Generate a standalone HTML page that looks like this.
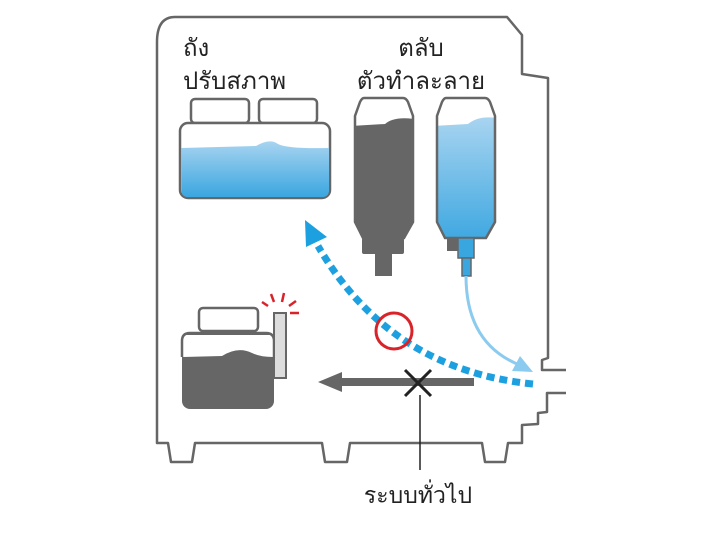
<!DOCTYPE html>
<html><head><meta charset="utf-8"><style>
body{margin:0;background:#fff}
text{font-family:"Liberation Sans","Noto Sans CJK SC",sans-serif;fill:#222}
</style></head><body>
<svg width="720" height="531" viewBox="0 0 720 531" xmlns="http://www.w3.org/2000/svg">
<defs>
<linearGradient id="bl" x1="0" y1="0" x2="0" y2="1"><stop offset="0" stop-color="#a8d4f0"/><stop offset="1" stop-color="#3aa6e0"/></linearGradient>
<clipPath id="b1"><path d="M364,98 L403,98 Q406,98 408,102 L413,116 L413,222 L404,238 L363,238 L355,222 L355,116 L360,102 Q362,98 364,98 Z"/></clipPath>
<clipPath id="b2"><path d="M446,98 L485,98 Q488,98 490,102 L495,116 L495,222 L486,238 L445,238 L437,222 L437,116 L442,102 Q444,98 446,98 Z"/></clipPath>
</defs>
<!-- outline -->
<path d="M566,370 L542,370 L542,360 L548,358 L548,78 L522,74 L522,35 L507,17 L175,17 Q157,17 157,42 L157,443 L168,443 L171,462 L192,462 L195,443 L322,443 L325,462 L347,462 L350,443 L482,443 L485,462 L505,462 L508,443 L522,443 L522,425 L538,424 L538,413 L547,412 L547,393 L566,393" fill="none" stroke="#666" stroke-width="2.5" stroke-linejoin="round"/>
<!-- labels -->
<text x="183" y="56" font-size="24">ถัง</text>
<text x="183" y="89" font-size="24">ปรับสภาพ</text>
<text x="421" y="56" font-size="24" text-anchor="middle">ตลับ</text>
<text x="421" y="89" font-size="24" text-anchor="middle">ตัวทำละลาย</text>
<!-- tank -->
<rect x="191" y="99" width="58" height="24" rx="4" fill="#fff" stroke="#666" stroke-width="2.5"/>
<rect x="259" y="99" width="58" height="24" rx="4" fill="#fff" stroke="#666" stroke-width="2.5"/>
<rect x="180" y="123" width="150" height="75" rx="8" fill="#fff" stroke="#666" stroke-width="2.5"/>
<path d="M181.5,148 L256,146 Q270,138 278,144 Q288,149 329,148 L329,190 Q329,197 322,197 L188,197 Q181.5,197 181.5,190 Z" fill="url(#bl)"/>
<!-- dark bottle -->
<g clip-path="url(#b1)">
<rect x="350" y="95" width="70" height="150" fill="#fff"/>
<path d="M350,126 L385,124 Q395,115 420,120 L420,245 L350,245 Z" fill="#666"/>
</g>
<path d="M364,98 L403,98 Q406,98 408,102 L413,116 L413,222 L404,238 L363,238 L355,222 L355,116 L360,102 Q362,98 364,98 Z" fill="none" stroke="#666" stroke-width="2.5"/>
<rect x="362" y="238" width="42" height="16" rx="2" fill="#666"/>
<rect x="375" y="254" width="17" height="22" fill="#666"/>
<!-- blue bottle -->
<g clip-path="url(#b2)">
<rect x="432" y="95" width="70" height="150" fill="#fff"/>
<path d="M432,126 L468,124 Q480,114 502,119 L502,245 L432,245 Z" fill="url(#bl)"/>
</g>
<path d="M446,98 L485,98 Q488,98 490,102 L495,116 L495,222 L486,238 L445,238 L437,222 L437,116 L442,102 Q444,98 446,98 Z" fill="none" stroke="#666" stroke-width="2.5"/>
<rect x="447" y="237" width="14" height="14" fill="#666"/>
<rect x="458" y="238" width="16" height="20" fill="#3aa6e0" stroke="#666" stroke-width="1.5"/>
<rect x="462" y="258" width="9" height="18" fill="#3aa6e0" stroke="#666" stroke-width="1.5"/>
<!-- light blue flow -->
<path d="M466,276 Q466,345 522,366" fill="none" stroke="#8ccbf0" stroke-width="3"/>
<polygon points="533,372 512,371 520,356" fill="#8ccbf0"/>
<!-- blue dashed -->
<path d="M533,384 Q390,370 318,246" fill="none" stroke="#1da0e0" stroke-width="7" stroke-dasharray="8,5"/>
<polygon points="305,220 327,237 306,247" fill="#1da0e0"/>
<circle cx="394" cy="331" r="18" fill="none" stroke="#d9232a" stroke-width="3"/>
<!-- lower bucket -->
<rect x="199" y="308" width="59" height="23" rx="4" fill="#fff" stroke="#666" stroke-width="2.5"/>
<rect x="182" y="333" width="92" height="76" rx="8" fill="#666"/>
<path d="M183,335 L183,357 L222,356 Q238,346 252,353 Q260,357 273,357 L273,335 Z" fill="#fff" stroke="none"/>
<path d="M182,357 L182,341 Q182,333 190,333 L266,333 Q274,333 274,341 L274,357" fill="none" stroke="#666" stroke-width="2.5"/>
<rect x="274" y="313" width="12" height="65" fill="#ddd" stroke="#666" stroke-width="2"/>
<g stroke="#d9232a" stroke-width="2.5"><line x1="268" y1="306" x2="262" y2="302"/><line x1="274" y1="302" x2="271" y2="294"/><line x1="282" y1="302" x2="284" y2="293"/><line x1="289" y1="306" x2="296" y2="301"/><line x1="290" y1="313" x2="299" y2="313"/></g>
<!-- gray arrow -->
<rect x="338" y="378" width="136" height="8" fill="#666"/>
<polygon points="318,382 342,372 342,392" fill="#666"/>
<g stroke="#222" stroke-width="3"><line x1="405" y1="370" x2="431" y2="396"/><line x1="431" y1="370" x2="405" y2="396"/></g>
<line x1="420" y1="395" x2="420" y2="470" stroke="#222" stroke-width="1.5"/>
<text x="418" y="503" font-size="23" text-anchor="middle">ระบบทั่วไป</text>
</svg>
</body></html>
